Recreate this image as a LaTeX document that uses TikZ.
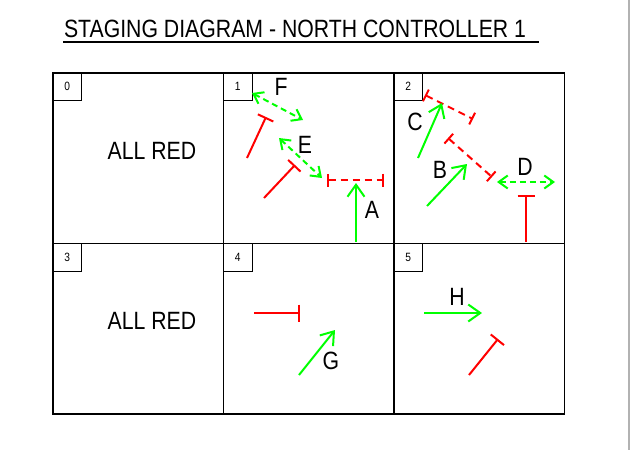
\documentclass[tikz,border=0pt]{standalone}
\usepackage{fontspec}
\setmainfont{Liberation Sans}[FakeStretch=0.85]
\usetikzlibrary{arrows.meta,positioning}

\begin{document}
\begin{tikzpicture}[x=1pt,y=-1pt,line width=2pt,
 cell/.style={draw,line width=1.6pt,minimum size=170.5pt,inner sep=0pt,anchor=north west},
 numbox/.style={draw,line width=1.3pt,minimum width=29pt,minimum height=28pt,inner sep=0pt,anchor=north west,font=\fontsize{12}{12}\selectfont},
 lbl/.style={font=\fontsize{25}{25}\selectfont,inner sep=0pt},
 go/.style={green,-{Straight Barb[length=12pt,width=17pt]}},
 gofilter/.style={green,dash pattern=on 6pt off 4pt,{Straight Barb[length=9pt,width=13pt]}-{Straight Barb[length=9pt,width=13pt]}},
 stop/.style={red,-{Bar[width=17pt]}},
 stopdash/.style={red,dash pattern=on 7pt off 5pt,{Bar[width=13pt]}-{Bar[width=13pt]}}]
\useasboundingbox (0,0) rectangle (637,450);
% title
\node[lbl,anchor=base west] (title) at (63,37) {STAGING DIAGRAM - NORTH CONTROLLER 1};
\draw[line width=1.5pt] (title.base west) ++(0,5) -- ++(476,0);
% stage cells
\foreach \n/\x/\y in {0/52/72,1/222.5/72,2/393/72,3/52/242.5,4/222.5/242.5,5/393/242.5} {
  \node[cell] (c\n) at (\x,\y) {};
  \node[numbox] (n\n) at (c\n.north west) {\n};
}
\node[lbl] (ar0) at (152,151) {ALL RED};
\node[lbl] (ar3) at (152,321) {ALL RED};
% stage 1
\draw[gofilter] (252,93) -- (303,120);
\node[lbl] (lF) at (281,87) {F};
\draw[stop] (247,158) -- (266,117);
\draw[gofilter] (279,138) -- (322,178);
\node[lbl] (lE) at (305,145) {E};
\draw[stop] (264,198) -- (295,165);
\draw[stopdash] (327,180) -- (384,180);
\draw[go] (356,242) -- (356,183);
\node[lbl] (lA) at (372,210) {A};
% stage 2
\draw[stopdash] (425,95) -- (473,119);
\draw[go] (418,158) -- (442,103);
\node[lbl] (lC) at (415,122) {C};
\draw[stopdash] (448,138) -- (492,177);
\draw[go] (427,206) -- (467,164);
\node[lbl] (lB) at (440,170) {B};
\draw[gofilter] (497,182) -- (555,182);
\node[lbl] (lD) at (525,167) {D};
\draw[stop] (526,242) -- (526,195);
% stage 4
\draw[stop] (254,313) -- (300,313);
\draw[go] (299,375) -- (335,330);
\node[lbl] (lG) at (331,361) {G};
% stage 5
\node[lbl] (lH) at (457,297) {H};
\draw[go] (424,313) -- (482,313);
\draw[stop] (469,375) -- (498,339);
% page edge
\draw[gray!60,line width=1.5pt] (629,0) -- (629,450);
\end{tikzpicture}
\end{document}
